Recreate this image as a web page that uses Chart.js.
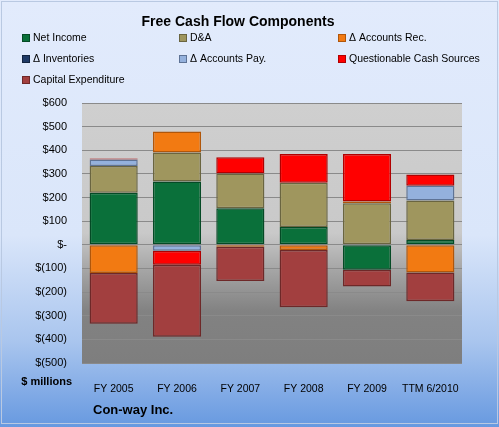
<!DOCTYPE html>
<html>
<head>
<meta charset="utf-8">
<script src="https://cdn.jsdelivr.net/npm/chart.js@4.4.1/dist/chart.umd.min.js"></script>
<style>
    html, body { margin: 0; padding: 0; background: #fff; }
    #wrap {
        position: relative;
        width: 499px;
        height: 427px;
        background: linear-gradient(to bottom, #e2ebfc 0%, #dae6fa 55%, #a9c5ee 80%, #6799e0 100%);
    }
    #frame {
        position: absolute; left: 1px; top: 1px; width: 495px; height: 421px;
        border: 1px solid #b9c9e2; pointer-events: none;
    }
    canvas { position: absolute; left: 0; top: 0; }
</style>
</head>
<body>
<div id="wrap">
    <canvas id="fcfChart" width="499" height="427"></canvas>
    <div id="frame"></div>
</div>
<script>
const categories = ["FY 2005", "FY 2006", "FY 2007", "FY 2008", "FY 2009", "TTM 6/2010"];

const netIncome = [220, 268, 155, 75, -105, 20];
const depAmort = [113, 123, 147, 188, 176, 167];
const acctsRec = [-119, 88, -8, -22, 7, -117];
const inventories = [0, 0, 0, 0, 0, 0];
const acctsPay = [28, -25, 0, 0, 0, 63];
const questionable = [4, -59, 68, 121, 201, 48];
const capex = [-215, -305, -145, -242, -71, -122];

const yTicks = [600, 500, 400, 300, 200, 100, 0, -100, -200, -300, -400, -500];

const FONT = "'Liberation Sans', Arial, sans-serif";

function money(v) {
    if (v === 0) return "$-";
    if (v < 0) return "$(" + Math.abs(v) + ")";
    return "$" + v;
}

function series(label, data, fill, edge) {
    return {
        label: label,
        data: data,
        backgroundColor: fill,
        borderColor: edge,
        borderWidth: 1.5,
        borderSkipped: false,
        barPercentage: 0.76,
        categoryPercentage: 1.0
    };
}

// plot background + the extra texts (title, legend, labels)
const decorPlugin = {
    id: "decor",
    beforeDraw(chart) {
        const ctx = chart.ctx, a = chart.chartArea;
        const g = ctx.createLinearGradient(0, a.top, 0, a.bottom);
        g.addColorStop(0, "#cfcfcf");
        g.addColorStop(0.5, "#c9c9c9");
        g.addColorStop(0.63, "#a8a8a8");
        g.addColorStop(0.8, "#828282");
        g.addColorStop(1, "#7e7e7e");
        ctx.save();
        ctx.fillStyle = g;
        ctx.fillRect(a.left, a.top, a.right - a.left, a.bottom - a.top);
        ctx.restore();
    },
    afterDraw(chart) {
        const ctx = chart.ctx;
        ctx.save();
        ctx.fillStyle = "#000";
        ctx.textBaseline = "middle";

        ctx.font = "bold 14px " + FONT;
        ctx.textAlign = "center";
        ctx.fillText("Free Cash Flow Components", 238, 22);

        // legend, 3 columns
        const colX = [22, 179, 338];
        const rowY = [38, 59, 80];
        ctx.font = "10.5px " + FONT;
        ctx.textAlign = "left";
        chart.data.datasets.forEach((ds, i) => {
            const x = colX[i % 3], y = rowY[Math.floor(i / 3)];
            ctx.fillStyle = ds.backgroundColor;
            ctx.fillRect(x, y - 4, 8, 8);
            ctx.strokeStyle = ds.borderColor;
            ctx.lineWidth = 1;
            ctx.strokeRect(x + 0.5, y - 3.5, 7, 7);
            ctx.fillStyle = "#000";
            ctx.fillText(ds.label, x + 11, y);
        });

        ctx.font = "bold 11px " + FONT;
        ctx.textAlign = "right";
        ctx.fillText("$ millions", 72, 382);

        ctx.font = "bold 13px " + FONT;
        ctx.textAlign = "left";
        ctx.fillText("Con-way Inc.", 93, 410);
        ctx.restore();
    }
};

new Chart(document.getElementById("fcfChart"), {
    type: "bar",
    data: {
        labels: categories,
        datasets: [
            series("Net Income", netIncome, "#0a703a", "#054a25"),
            series("D&A", depAmort, "#9f965e", "#6a6540"),
            series("\u0394 Accounts Rec.", acctsRec, "#f27a12", "#b0560a"),
            series("\u0394 Inventories", inventories, "#1f3a66", "#12243f"),
            series("\u0394 Accounts Pay.", acctsPay, "#94b1dd", "#5e7396"),
            series("Questionable Cash Sources", questionable, "#ff0000", "#b00000"),
            series("Capital Expenditure", capex, "#a23f3f", "#6e2828")
        ]
    },
    options: {
        responsive: false,
        devicePixelRatio: 1,
        animation: false,
        layout: { padding: { top: 103, left: 10, right: 37, bottom: 0 } },
        plugins: {
            legend: { display: false },
            title: { display: false },
            tooltip: { enabled: false }
        },
        scales: {
            x: {
                stacked: true,
                grid: { display: false },
                border: { display: false },
                ticks: { color: "#000", font: { family: FONT, size: 10.5 }, padding: 12 },
                afterFit: scale => { scale.height = 64; }
            },
            y: {
                stacked: true,
                min: -500,
                max: 600,
                afterBuildTicks: scale => { scale.ticks = yTicks.map(v => ({ value: v })); },
                afterFit: scale => { scale.width = 72; },
                grid: { color: "#8a8a8a", lineWidth: 1, drawTicks: false },
                border: { display: false },
                ticks: {
                    color: "#000",
                    font: { family: FONT, size: 11 },
                    padding: 15,
                    callback: v => money(v)
                }
            }
        }
    },
    plugins: [decorPlugin]
});
</script>
</body>
</html>
